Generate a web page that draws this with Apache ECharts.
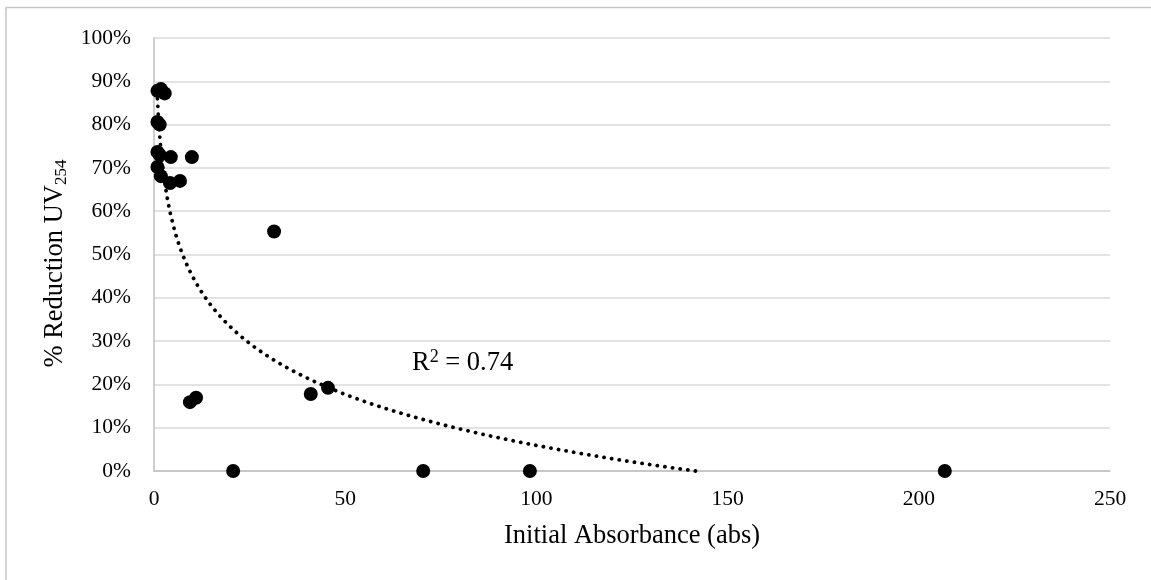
<!DOCTYPE html>
<html>
<head>
<meta charset="utf-8">
<script src="https://cdn.jsdelivr.net/npm/echarts@6/dist/echarts.min.js"></script>
<style>
  html, body { margin: 0; padding: 0; background: #fff; }
  #chart { width: 1151px; height: 580px; }
</style>
</head>
<body>
<div id="chart"></div>
<script>
// ---- Data ----
const xValues = [0.9, 1.8, 2.8, 0.9, 1.5, 0.9, 1.5, 4.4, 9.9, 0.9, 1.8, 4.2, 6.8, 31.4, 9.4, 11.0, 41.0, 45.5, 20.7, 70.4, 98.3, 206.8];
const yValues = [87.8, 88.2, 87.2, 80.6, 80.0, 73.7, 73.0, 72.5, 72.5, 70.2, 68.1, 66.5, 67.0, 55.3, 15.9, 16.9, 17.8, 19.2, 0, 0, 0, 0]; // percent
const yTicks = [0, 10, 20, 30, 40, 50, 60, 70, 80, 90, 100];
const xTicks = [0, 50, 100, 150, 200, 250];
const r2Label = "0.74";
// Logarithmic trendline y = a·ln(x) + b, coefficients
const trendSlope = -0.170;
const trendIntercept = 0.842;

// ---- Build series data ----
const points = xValues.map((x, i) => [x, yValues[i] / 100]);
const xMin = Math.min(...xValues), xMax = Math.max(...xValues);
const xZero = Math.min(xMax, Math.exp(-trendIntercept / trendSlope));
const trend = [];
const N = 400;
for (let i = 0; i <= N; i++) {
  const t = i / N;
  const x = Math.exp(Math.log(xMin) + t * (Math.log(xZero) - Math.log(xMin)));
  trend.push([x, Math.max(0, trendSlope * Math.log(x) + trendIntercept)]);
}

const FONT = "'Liberation Serif', 'Times New Roman', serif";
const chart = echarts.init(document.getElementById('chart'), null, { renderer: 'canvas' });
chart.setOption({
  backgroundColor: '#fff',
  animation: false,
  grid: { left: 154, right: 41, top: 38, bottom: 109, containLabel: false },
  xAxis: {
    type: 'value', min: xTicks[0], max: xTicks[xTicks.length - 1], interval: 50,
    name: 'Initial Absorbance (abs)', nameLocation: 'middle', nameGap: 50,
    nameTextStyle: { fontFamily: FONT, fontSize: 26.5, color: '#000', lineHeight: 30 },
    axisLine: { show: true, lineStyle: { color: '#bfbfbf', width: 1.5 } },
    axisTick: { show: false },
    axisLabel: { fontFamily: FONT, fontSize: 21.5, color: '#000', margin: 17 },
    splitLine: { show: false }
  },
  yAxis: {
    type: 'value', min: yTicks[0] / 100, max: yTicks[yTicks.length - 1] / 100, interval: 0.1,
    name: '{a|% Reduction UV}{s|254}', nameLocation: 'middle', nameGap: 82,
    nameTextStyle: {
      fontFamily: FONT, color: '#000', padding: [0, 18, 0, 0],
      rich: {
        a: { fontFamily: FONT, fontSize: 26.5, lineHeight: 30, color: '#000' },
        s: { fontFamily: FONT, fontSize: 17, lineHeight: 13, verticalAlign: 'bottom', color: '#000' }
      }
    },
    axisLine: { show: true, lineStyle: { color: '#bfbfbf', width: 1.5 } },
    axisTick: { show: false },
    axisLabel: {
      fontFamily: FONT, fontSize: 21.5, color: '#000', margin: 23,
      formatter: v => Math.round(v * 100) + '%'
    },
    splitLine: { show: true, lineStyle: { color: '#d9d9d9', width: 1.5 } }
  },
  graphic: [
    {
      type: 'rect', z: -1, silent: true,
      shape: { x: 6, y: 7.5, width: 1300, height: 700 },
      style: { fill: 'none', stroke: '#c6c6c6', lineWidth: 1.5 }
    },
    {
      type: 'text', left: 412, top: 348, silent: true,
      style: {
        text: '{r|R}{p|2}{r| = ' + r2Label + '}',
        rich: {
          r: { fontFamily: FONT, fontSize: 26.5, lineHeight: 30, fill: '#000' },
          p: { fontFamily: FONT, fontSize: 18, lineHeight: 24, verticalAlign: 'top', fill: '#000' }
        }
      }
    }
  ],
  series: [
    {
      type: 'line', data: trend, showSymbol: false, symbol: 'none', smooth: false,
      clip: true, z: 3,
      lineStyle: { color: '#000', width: 3.8, type: [0.1, 7.6], cap: 'round' }
    },
    {
      type: 'scatter', data: points, symbol: 'circle', symbolSize: 14, z: 4,
      itemStyle: { color: '#000', opacity: 1 }
    }
  ]
});
</script>
</body>
</html>
